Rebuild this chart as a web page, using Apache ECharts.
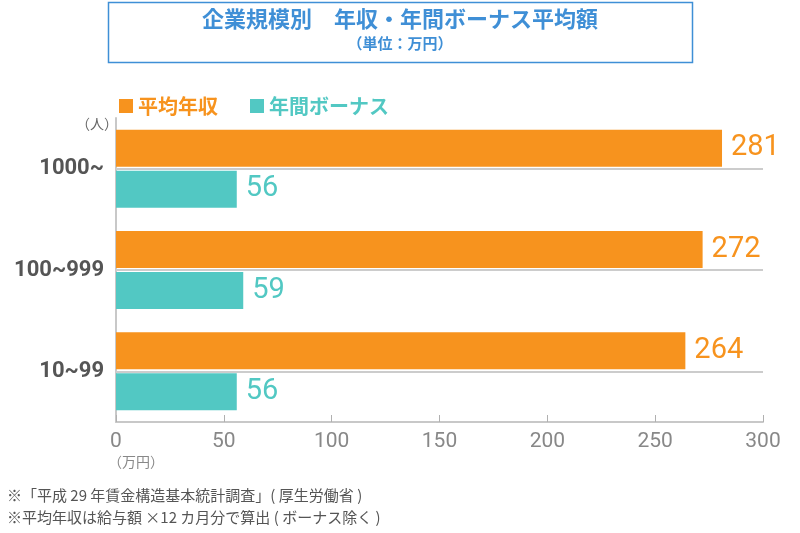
<!DOCTYPE html>
<html><head><meta charset="utf-8">
<script src="https://cdn.jsdelivr.net/npm/echarts@6/dist/echarts.min.js"></script>
<style>html,body{margin:0;padding:0;background:#fff}#c{width:800px;height:533px}</style>
</head><body><div id="c"></div>
<script>
const categories = ['1000~', '100~999', '10~99'];
const salary = [281, 272, 264];
const bonus = [56, 59, 56];
const xTicks = [0, 50, 100, 150, 200, 250, 300];
const seriesNames = ['平均年収', '年間ボーナス'];

const ORANGE = '#F7931E', TEAL = '#52C8C3', BLUE = '#3F8FD6';
const NUM = '"Roboto","Noto Sans CJK JP",sans-serif';
const CJK = '"Noto Sans CJK JP",sans-serif';

const chart = echarts.init(document.getElementById('c'));
chart.setOption({
  animation: false,
  grid: { left: 116, right: 37, top: 118, bottom: 111 },
  legend: {
    left: 114, top: 91, itemWidth: 14, itemHeight: 14, itemGap: 32,
    icon: 'rect',
    data: [
      { name: seriesNames[0], textStyle: { color: ORANGE } },
      { name: seriesNames[1], textStyle: { color: TEAL } }
    ],
    textStyle: { fontFamily: CJK, fontSize: 20, fontWeight: 'bold' }
  },
  xAxis: {
    type: 'value', min: xTicks[0], max: xTicks[xTicks.length - 1], interval: 50,
    axisLine: { show: true, lineStyle: { color: '#c8c8c8', width: 2 } },
    axisTick: { show: true, inside: true, length: 7, lineStyle: { color: '#b0b0b0' } },
    splitLine: { show: false },
    axisLabel: { color: '#888', fontFamily: NUM, fontSize: 21, margin: 9 }
  },
  yAxis: [{
    type: 'category', data: categories, inverse: true,
    axisLine: { show: true, lineStyle: { color: '#c8c8c8', width: 2 } },
    axisTick: { show: false },
    axisLabel: { color: '#555', fontFamily: NUM, fontSize: 22, fontWeight: 'bold', margin: 12 }
  }],
  series: [
    {
      name: seriesNames[0], type: 'bar', data: salary,
      itemStyle: { color: ORANGE },
      barWidth: 37, barGap: '11%', z: 3,
      label: { show: true, position: 'right', distance: 9, color: ORANGE,
        fontFamily: NUM, fontSize: 29 }
    },
    {
      name: seriesNames[1], type: 'bar', data: bonus,
      itemStyle: { color: TEAL },
      barWidth: 37, z: 3,
      label: { show: true, position: 'right', distance: 9, color: TEAL,
        fontFamily: NUM, fontSize: 29 }
    },
    {
      name: 'sep', type: 'line', data: [], z: 1,
      markLine: {
        silent: true, symbol: 'none', label: { show: false },
        lineStyle: { color: '#cccccc', width: 2, type: 'solid' },
        data: categories.map(c => [{ coord: [xTicks[0], c] }, { coord: [xTicks[xTicks.length - 1], c] }])
      }
    }
  ],
  graphic: [
    { type: 'rect', shape: { x: 108.5, y: 2.5, width: 584, height: 60 },
      style: { fill: '#fff', stroke: BLUE, lineWidth: 1.5 } },
    { type: 'text', left: 'center', top: 8,
      style: { text: '企業規模別　年収・年間ボーナス平均額', fill: BLUE, font: 'bold 22px "Noto Sans CJK JP"' } },
    { type: 'text', left: 'center', top: 36,
      style: { text: '（単位：万円）', fill: BLUE, font: 'bold 15px "Noto Sans CJK JP"' } },
    { type: 'text', left: 76, top: 117,
      style: { text: '（人）', fill: '#666', font: '14px "Noto Sans CJK JP"' } },
    { type: 'text', left: 108, top: 455,
      style: { text: '（万円）', fill: '#888', font: '14px "Noto Sans CJK JP"' } },
    { type: 'text', left: 7, top: 488,
      style: { text: '※「平成 29 年賃金構造基本統計調査」( 厚生労働省 )', fill: '#555', font: '15px "Noto Sans CJK JP"' } },
    { type: 'text', left: 7, top: 510,
      style: { text: '※平均年収は給与額 ×12 カ月分で算出 ( ボーナス除く )', fill: '#555', font: '15px "Noto Sans CJK JP"' } }
  ]
});
</script></body></html>
